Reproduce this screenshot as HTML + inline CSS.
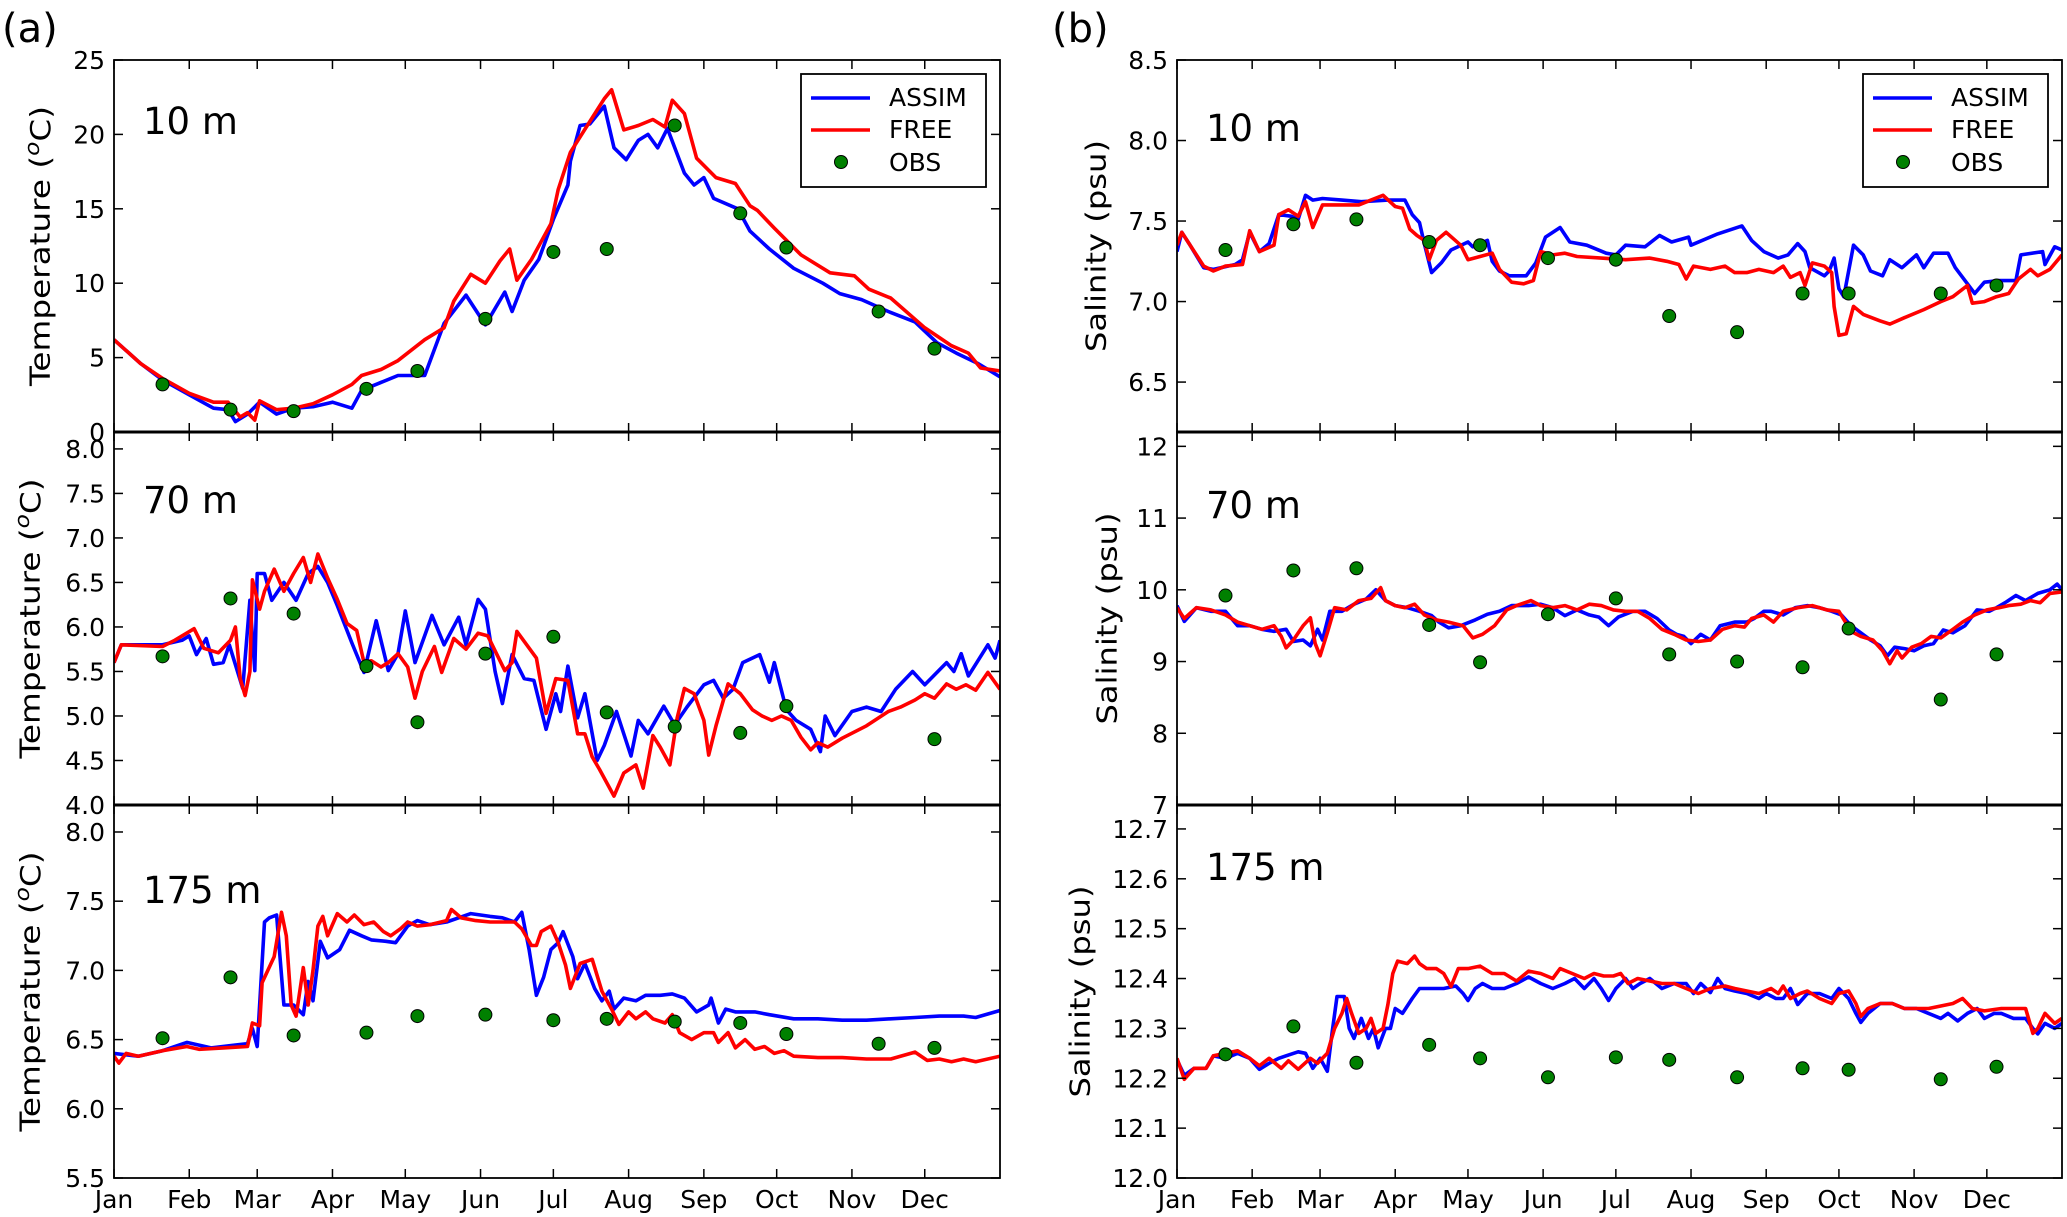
<!DOCTYPE html>
<html><head><meta charset="utf-8"><title>ASSIM vs FREE vs OBS</title>
<style>
html,body{margin:0;padding:0;background:#fff;}
svg{display:block;font-family:"DejaVu Sans","Liberation Sans",sans-serif;}
</style></head>
<body>
<svg id="fig" width="2067" height="1217" viewBox="0 0 2067 1217" xmlns="http://www.w3.org/2000/svg">
<rect width="2067" height="1217" fill="#fff"/>
<text x="2" y="42" font-size="40">(a)</text>
<text x="1052" y="42" font-size="40">(b)</text>
</svg>
<script>
const monthLabels=['Jan','Feb','Mar','Apr','May','Jun','Jul','Aug','Sep','Oct','Nov','Dec'];
const monthDays=[0,31,59,90,120,151,181,212,243,273,304,334];
const obsDays=[20,48,74,104,125,153,181,203,231,258,277,315,338];

// (a) Temperature 10 m
const assimT10=[[0,6.2],[11,4.6],[20,3.5],[31,2.5],[41,1.6],[47,1.5],[50,0.7],[55,1.2],[60,2.0],[67,1.2],[74,1.6],[82,1.7],[90,2.0],[98,1.6],[102,2.8],[117,3.8],[128,3.8],[136,7.3],[145,9.2],[153,7.2],[161,9.4],[164,8.1],[169,10.2],[175,11.6],[181,14.3],[187,16.6],[188,18.2],[192,20.6],[196,20.7],[202,21.9],[206,19.1],[211,18.3],[216,19.6],[220,20.0],[224,19.1],[228,20.4],[235,17.4],[239,16.6],[243,17.1],[247,15.7],[257,15.0],[262,13.5],[270,12.3],[280,11.0],[292,10.0],[299,9.3],[308,8.9],[319,8.1],[330,7.4],[339,6.0],[347,5.3],[356,4.6],[365,3.7]];
const freeT10=[[0,6.2],[11,4.6],[20,3.6],[31,2.6],[41,2.0],[47,2.0],[52,1.0],[55,1.3],[58,0.8],[60,2.1],[67,1.5],[74,1.6],[82,1.9],[90,2.5],[98,3.2],[102,3.8],[110,4.2],[117,4.8],[128,6.2],[136,7.0],[140,8.8],[147,10.6],[153,10.0],[159,11.5],[163,12.3],[166,10.2],[172,11.6],[180,14.0],[183,16.3],[188,18.8],[195,20.6],[202,22.4],[205,23.0],[210,20.3],[216,20.6],[222,21.0],[227,20.5],[230,22.3],[235,21.4],[240,18.4],[248,17.1],[256,16.7],[262,15.2],[265,14.9],[272,13.7],[283,11.9],[295,10.7],[305,10.5],[311,9.6],[320,9.0],[334,7.0],[345,5.8],[352,5.3],[357,4.3],[365,4.1]];
const obsT10=[3.2,1.5,1.4,2.9,4.1,7.6,12.1,12.3,20.6,14.7,12.4,8.1,5.6];

// (a) Temperature 70 m
const assimT70=[[0,5.6],[3,5.8],[20,5.8],[28,5.85],[31,5.9],[34,5.69],[38,5.87],[41,5.58],[45,5.6],[47.5,5.8],[53,5.31],[56,6.3],[58,5.51],[59,6.6],[62,6.6],[65,6.3],[70,6.5],[75,6.3],[80,6.6],[84,6.68],[88,6.5],[92,6.24],[98,5.82],[103,5.49],[108,6.07],[113,5.51],[117,5.7],[120,6.18],[124,5.6],[131,6.13],[136,5.8],[142,6.11],[145,5.8],[150,6.31],[153,6.2],[157,5.5],[160,5.14],[164,5.69],[169,5.42],[173,5.4],[178,4.85],[182,5.25],[184,5.05],[187,5.56],[191,4.98],[194,5.25],[199,4.5],[202,4.67],[207,5.05],[213,4.55],[216,4.95],[220,4.8],[226.5,5.11],[231,4.9],[236,5.1],[243,5.35],[247,5.4],[251,5.2],[255,5.3],[259,5.6],[266,5.69],[270,5.38],[272,5.6],[277,5.07],[281,4.95],[287,4.85],[291,4.6],[293,5.0],[297,4.78],[304,5.05],[310,5.1],[316,5.05],[322,5.3],[329,5.5],[334,5.35],[343,5.6],[346,5.5],[349,5.7],[352,5.45],[360,5.8],[363,5.65],[365,5.85]];
const freeT70=[[0,5.6],[3,5.8],[20,5.78],[25,5.85],[33,5.98],[37,5.76],[43,5.71],[48,5.85],[50,6.0],[52,5.42],[54,5.23],[56,5.5],[57,6.53],[60,6.2],[62,6.4],[66,6.65],[70,6.4],[74,6.6],[78,6.78],[81,6.5],[84,6.82],[88,6.55],[92,6.31],[96,6.04],[100,5.96],[103,5.6],[106,5.62],[110,5.55],[113,5.6],[117,5.7],[121,5.55],[124,5.2],[127,5.5],[132,5.78],[135,5.49],[140,5.87],[145,5.75],[150,5.93],[154,5.9],[161,5.51],[164,5.6],[166,5.95],[170,5.8],[174,5.65],[178,5.03],[182,5.42],[187,5.4],[191,4.8],[194,4.8],[197,4.54],[200,4.4],[206,4.1],[210,4.36],[215,4.45],[218,4.19],[222,4.78],[225,4.65],[229,4.45],[232,4.98],[235,5.31],[239,5.25],[243,4.95],[245,4.56],[248,4.89],[253,5.36],[258,5.25],[263,5.07],[267,5.0],[271,4.95],[275,5.0],[279,4.95],[283,4.76],[287,4.62],[290,4.7],[294,4.65],[300,4.75],[310,4.89],[319,5.05],[324,5.1],[330,5.18],[334,5.25],[338,5.2],[343,5.36],[347,5.3],[351,5.35],[355,5.29],[360,5.49],[365,5.3]];
const obsT70=[5.67,6.32,6.15,5.56,4.93,5.7,5.89,5.04,4.88,4.81,5.11,null,4.74];

// (a) Temperature 175 m
const assimT175=[[0,6.4],[10,6.38],[20,6.42],[30,6.48],[40,6.44],[50,6.46],[55,6.47],[57,6.58],[59,6.45],[62,7.35],[64,7.38],[67,7.4],[70,6.75],[74,6.75],[78,6.68],[80,6.92],[82,6.78],[85,7.21],[88,7.09],[93,7.15],[97,7.29],[102,7.25],[106,7.22],[112,7.21],[116,7.2],[121,7.32],[125,7.36],[130,7.33],[137,7.35],[142,7.38],[147,7.41],[155,7.39],[160,7.38],[165,7.35],[168,7.42],[171,7.15],[174,6.82],[177,6.95],[180,7.15],[183,7.2],[185,7.28],[189,7.1],[191,6.94],[194,7.05],[198,6.87],[201,6.78],[204,6.85],[206,6.72],[210,6.8],[215,6.78],[219,6.82],[225,6.82],[230,6.83],[235,6.8],[240,6.7],[245,6.75],[246,6.8],[249,6.62],[252,6.72],[256,6.7],[264,6.7],[270,6.68],[280,6.65],[290,6.65],[300,6.64],[310,6.64],[320,6.65],[330,6.66],[340,6.67],[350,6.67],[355,6.66],[365,6.71]];
const freeT175=[[0,6.38],[2,6.33],[5,6.4],[10,6.38],[20,6.42],[30,6.45],[35,6.43],[45,6.44],[55,6.45],[57,6.62],[60,6.6],[61,6.91],[66,7.1],[69,7.42],[71,7.25],[73,6.75],[75,6.67],[78,7.02],[80,6.75],[82,7.0],[84,7.32],[86,7.39],[88,7.25],[92,7.41],[96,7.35],[99,7.4],[103,7.33],[107,7.35],[111,7.28],[114,7.25],[118,7.3],[121,7.35],[125,7.32],[130,7.33],[137,7.36],[139,7.44],[143,7.38],[149,7.36],[155,7.35],[165,7.35],[168,7.3],[172,7.18],[174,7.18],[176,7.28],[180,7.32],[183,7.2],[186,7.04],[188,6.87],[192,7.05],[197,7.08],[201,6.85],[205,6.72],[208,6.61],[212,6.7],[215,6.65],[219,6.7],[222,6.65],[227,6.62],[230,6.68],[233,6.55],[238,6.5],[243,6.55],[247,6.55],[249,6.48],[253,6.55],[256,6.44],[260,6.5],[264,6.43],[268,6.45],[272,6.4],[276,6.42],[280,6.38],[290,6.37],[300,6.37],[310,6.36],[320,6.36],[330,6.41],[335,6.35],[340,6.36],[345,6.34],[350,6.36],[355,6.34],[365,6.38]];
const obsT175=[6.51,6.95,6.53,6.55,6.67,6.68,6.64,6.65,6.63,6.62,6.54,6.47,6.44];

// (b) Salinity 10 m
const assimS10=[[0,7.31],[2,7.43],[5,7.36],[11,7.21],[15,7.2],[24,7.23],[27,7.26],[30,7.43],[34,7.31],[38,7.36],[42,7.54],[47,7.53],[50,7.51],[53,7.66],[56,7.63],[60,7.64],[68,7.63],[76,7.62],[87,7.63],[94,7.63],[97,7.54],[100,7.49],[102,7.36],[105,7.18],[109,7.24],[113,7.32],[120,7.37],[122,7.34],[128,7.38],[130,7.25],[133,7.19],[137,7.16],[144,7.16],[148,7.24],[152,7.4],[158,7.46],[162,7.37],[169,7.35],[177,7.3],[181,7.29],[185,7.35],[193,7.34],[199,7.41],[204,7.37],[211,7.4],[212,7.35],[223,7.42],[233,7.47],[237,7.38],[242,7.31],[248,7.27],[252,7.29],[256,7.36],[259,7.31],[261,7.21],[267,7.16],[269,7.19],[271,7.27],[273,7.08],[275,7.03],[279,7.35],[283,7.29],[286,7.19],[291,7.16],[294,7.26],[299,7.21],[305,7.29],[308,7.21],[312,7.3],[318,7.3],[321,7.21],[327,7.09],[329,7.05],[333,7.12],[339,7.13],[346,7.13],[348,7.29],[357,7.31],[358,7.23],[362,7.34],[365,7.32]];
const freeS10=[[0,7.35],[2,7.43],[5,7.36],[11,7.22],[15,7.19],[20,7.22],[27,7.23],[30,7.44],[34,7.31],[40,7.35],[42,7.54],[46,7.57],[50,7.53],[53,7.62],[56,7.46],[60,7.6],[68,7.6],[75,7.6],[80,7.63],[85,7.66],[90,7.59],[93,7.58],[96,7.45],[99,7.41],[102,7.38],[104,7.26],[107,7.38],[111,7.43],[117,7.35],[120,7.26],[125,7.28],[130,7.3],[133,7.2],[138,7.12],[143,7.11],[147,7.13],[150,7.31],[155,7.29],[160,7.3],[165,7.28],[175,7.27],[185,7.26],[195,7.27],[202,7.25],[207,7.23],[210,7.14],[213,7.22],[220,7.2],[226,7.22],[230,7.18],[235,7.18],[240,7.2],[246,7.18],[250,7.22],[253,7.15],[257,7.18],[259,7.1],[262,7.24],[267,7.22],[270,7.18],[271,6.97],[273,6.79],[276,6.8],[279,6.97],[283,6.92],[290,6.88],[294,6.86],[300,6.9],[308,6.95],[315,7.0],[320,7.03],[326,7.1],[328,6.99],[333,7.0],[338,7.03],[343,7.05],[347,7.14],[352,7.2],[355,7.16],[360,7.2],[365,7.29]];
const obsS10=[7.32,7.48,7.51,7.37,7.35,7.27,7.26,6.91,6.81,7.05,7.05,7.05,7.1];

// (b) Salinity 70 m
const assimS70=[[0,9.78],[3,9.56],[8,9.75],[14,9.7],[20,9.7],[25,9.5],[30,9.5],[35,9.45],[40,9.42],[45,9.45],[48,9.28],[52,9.3],[55,9.22],[58,9.45],[60,9.3],[63,9.7],[68,9.7],[73,9.8],[78,9.87],[82,10.0],[86,9.85],[90,9.78],[95,9.75],[100,9.7],[105,9.64],[108,9.55],[112,9.47],[117,9.5],[123,9.58],[128,9.66],[133,9.7],[138,9.78],[145,9.78],[150,9.8],[155,9.75],[160,9.64],[165,9.72],[170,9.65],[174,9.62],[178,9.5],[182,9.62],[188,9.7],[193,9.7],[198,9.6],[203,9.44],[206,9.38],[209,9.35],[212,9.25],[216,9.38],[220,9.3],[224,9.5],[230,9.55],[235,9.55],[238,9.6],[242,9.7],[245,9.7],[250,9.65],[255,9.75],[260,9.78],[265,9.75],[270,9.7],[274,9.65],[278,9.5],[282,9.4],[286,9.3],[290,9.22],[293,9.08],[296,9.2],[300,9.18],[304,9.15],[308,9.22],[312,9.25],[316,9.44],[320,9.4],[325,9.5],[330,9.72],[335,9.7],[338,9.75],[342,9.83],[346,9.92],[350,9.85],[355,9.95],[360,10.0],[363,10.08],[365,10.0]];
const freeS70=[[0,9.75],[3,9.6],[8,9.75],[14,9.72],[20,9.65],[25,9.55],[30,9.5],[35,9.45],[40,9.5],[43,9.35],[45,9.19],[48,9.3],[52,9.5],[55,9.61],[57,9.25],[59,9.08],[62,9.4],[65,9.75],[70,9.72],[75,9.85],[80,9.88],[84,10.03],[86,9.85],[90,9.78],[94,9.75],[98,9.8],[102,9.65],[107,9.58],[112,9.55],[118,9.5],[122,9.33],[126,9.38],[131,9.5],[136,9.72],[140,9.78],[146,9.85],[150,9.78],[155,9.75],[160,9.78],[165,9.72],[170,9.8],[175,9.78],[180,9.72],[185,9.7],[190,9.7],[195,9.6],[200,9.45],[205,9.38],[210,9.3],[215,9.28],[220,9.3],[225,9.45],[230,9.5],[234,9.48],[237,9.6],[242,9.65],[246,9.55],[250,9.7],[256,9.75],[262,9.78],[268,9.72],[273,9.7],[278,9.42],[282,9.35],[287,9.3],[291,9.15],[294,8.97],[297,9.15],[299,9.05],[303,9.2],[307,9.25],[311,9.35],[315,9.33],[320,9.45],[324,9.55],[329,9.65],[334,9.72],[339,9.75],[343,9.78],[348,9.8],[352,9.85],[356,9.82],[360,9.95],[365,9.97]];
const obsS70=[9.92,10.27,10.3,9.51,8.99,9.66,9.88,9.1,9.0,8.92,9.46,8.47,9.1];

// (b) Salinity 175 m
const assimS175=[[0,12.237],[3,12.206],[7,12.22],[12,12.22],[15,12.245],[20,12.24],[25,12.25],[30,12.24],[34,12.218],[38,12.23],[42,12.24],[45,12.245],[50,12.253],[53,12.25],[56,12.22],[59,12.24],[62,12.214],[64,12.293],[66,12.364],[69,12.364],[71,12.3],[73,12.28],[76,12.32],[79,12.28],[81,12.3],[83,12.261],[86,12.3],[88,12.3],[90,12.34],[93,12.33],[97,12.36],[100,12.38],[105,12.38],[110,12.38],[115,12.385],[118,12.37],[120,12.356],[123,12.38],[126,12.39],[130,12.38],[135,12.38],[140,12.39],[145,12.403],[150,12.39],[155,12.38],[160,12.39],[164,12.4],[168,12.38],[172,12.4],[175,12.38],[178,12.356],[181,12.38],[185,12.4],[188,12.38],[191,12.39],[195,12.4],[200,12.38],[205,12.39],[210,12.39],[213,12.37],[216,12.39],[220,12.372],[223,12.4],[226,12.38],[230,12.375],[235,12.37],[240,12.36],[243,12.37],[247,12.36],[250,12.36],[253,12.38],[256,12.348],[260,12.37],[265,12.37],[270,12.36],[273,12.38],[277,12.36],[280,12.33],[282,12.312],[285,12.33],[290,12.35],[295,12.35],[300,12.34],[305,12.34],[310,12.33],[315,12.32],[318,12.33],[322,12.315],[326,12.33],[330,12.34],[333,12.32],[337,12.33],[340,12.33],[345,12.32],[350,12.32],[353,12.3],[355,12.289],[358,12.31],[362,12.3],[365,12.31]];
const freeS175=[[0,12.24],[3,12.198],[7,12.22],[12,12.22],[15,12.245],[20,12.25],[25,12.255],[30,12.24],[34,12.225],[38,12.24],[43,12.22],[46,12.235],[50,12.218],[55,12.24],[58,12.23],[62,12.25],[65,12.3],[68,12.33],[70,12.36],[72,12.33],[75,12.29],[78,12.3],[80,12.32],[82,12.29],[85,12.3],[87,12.348],[89,12.41],[91,12.435],[95,12.43],[98,12.445],[100,12.43],[103,12.42],[107,12.42],[110,12.41],[113,12.384],[116,12.42],[120,12.42],[125,12.425],[130,12.41],[135,12.41],[140,12.395],[145,12.415],[150,12.41],[155,12.4],[158,12.42],[163,12.41],[168,12.4],[172,12.41],[176,12.405],[180,12.405],[183,12.41],[186,12.39],[190,12.4],[195,12.395],[200,12.39],[205,12.39],[210,12.38],[215,12.37],[220,12.38],[226,12.385],[230,12.38],[235,12.375],[240,12.37],[245,12.38],[248,12.37],[250,12.385],[253,12.36],[257,12.37],[260,12.375],[265,12.36],[270,12.35],[273,12.37],[277,12.375],[280,12.35],[282,12.324],[285,12.34],[290,12.35],[295,12.35],[300,12.34],[305,12.34],[310,12.34],[315,12.345],[320,12.35],[324,12.36],[328,12.34],[333,12.335],[340,12.34],[345,12.34],[350,12.34],[353,12.29],[355,12.3],[358,12.33],[362,12.31],[365,12.32]];
const obsS175=[12.248,12.304,12.231,12.267,12.24,12.202,12.242,12.237,12.202,12.22,12.217,12.198,12.223];

const tickT10=['0','5','10','15','20','25'];
const tickT70=['4.0','4.5','5.0','5.5','6.0','6.5','7.0','7.5','8.0'];
const tickT175=['5.5','6.0','6.5','7.0','7.5','8.0'];
const tickS10=['6.5','7.0','7.5','8.0','8.5'];
const tickS70=['7','8','9','10','11','12'];
const tickS175=['12.0','12.1','12.2','12.3','12.4','12.5','12.6','12.7'];

const NS='http://www.w3.org/2000/svg';
const svg=document.getElementById('fig');
function mk(tag,attrs,parent){const e=document.createElementNS(NS,tag);for(const k in attrs)e.setAttribute(k,attrs[k]);(parent||svg).appendChild(e);return e;}

const panels=[
 {id:'temp-10m',x0:114,x1:1000,y0:60,y1:432,lo:0,hi:25,ticks:tickT10,assim:assimT10,free:freeT10,obs:obsT10,depth:'10 m',dx:143,dy:134,title:'Temperature',tx:40,legend:true,bottom:false},
 {id:'temp-70m',x0:114,x1:1000,y0:432,y1:805,lo:4,hi:8.19,ticks:tickT70,assim:assimT70,free:freeT70,obs:obsT70,depth:'70 m',dx:143,dy:513,title:'Temperature',tx:30,bottom:false},
 {id:'temp-175m',x0:114,x1:1000,y0:805,y1:1178,lo:5.5,hi:8.195,ticks:tickT175,assim:assimT175,free:freeT175,obs:obsT175,depth:'175 m',dx:143,dy:903,title:'Temperature',tx:30,bottom:true},
 {id:'sal-10m',x0:1177,x1:2062,y0:60,y1:432,lo:6.19,hi:8.5,ticks:tickS10,assim:assimS10,free:freeS10,obs:obsS10,depth:'10 m',dx:1206,dy:141,title:'Salinity',tx:1096,legend:true,bottom:false},
 {id:'sal-70m',x0:1177,x1:2062,y0:432,y1:805,lo:7,hi:12.2,ticks:tickS70,assim:assimS70,free:freeS70,obs:obsS70,depth:'70 m',dx:1206,dy:518,title:'Salinity',tx:1107,bottom:false},
 {id:'sal-175m',x0:1177,x1:2062,y0:805,y1:1178,lo:12,hi:12.748,ticks:tickS175,assim:assimS175,free:freeS175,obs:obsS175,depth:'175 m',dx:1206,dy:880,title:'Salinity',tx:1080,bottom:true}
];

panels.forEach((p,pi)=>{
 const g=mk('g',{});
 
 
 const xs=d=>p.x0+(p.x1-p.x0)*d/365;
 const ys=v=>p.y1-(p.y1-p.y0)*(v-p.lo)/(p.hi-p.lo);
 const cid='clip'+pi;
 const cp=mk('clipPath',{id:cid},g);
 mk('rect',{x:p.x0,y:p.y0,width:p.x1-p.x0,height:p.y1-p.y0},cp);
 [['assim','#0000ff'],['free','#ff0000']].forEach(([k,c])=>{
  const pts=p[k].map(([d,v])=>xs(d).toFixed(1)+','+ys(v).toFixed(1)).join(' ');
  const pl=mk('polyline',{points:pts,fill:'none',stroke:c,'stroke-width':3.6,'stroke-linejoin':'round','clip-path':'url(#'+cid+')'},g);
  
  
 });
 p.obs.forEach((v,i)=>{
  if(v===null)return;
  const c=mk('circle',{cx:xs(obsDays[i]),cy:ys(v),r:6.5,fill:'#008000',stroke:'#000','stroke-width':1,'clip-path':'url(#'+cid+')'},g);
  
  
 });
 const fr=mk('rect',{x:p.x0,y:p.y0,width:p.x1-p.x0,height:p.y1-p.y0,fill:'none',stroke:'#000','stroke-width':1.8},g);
 
 
 monthDays.forEach((d,i)=>{
  const x=xs(d);
  mk('line',{x1:x,x2:x,y1:p.y1,y2:p.y1-9,stroke:'#000','stroke-width':1.5},g);
  mk('line',{x1:x,x2:x,y1:p.y0,y2:p.y0+9,stroke:'#000','stroke-width':1.5},g);
  if(p.bottom){
   const t=mk('text',{x:x,y:1208,'font-size':25,'text-anchor':'middle'},g);
   t.textContent=monthLabels[i];
   
   
  }
 });
 p.ticks.forEach(s=>{
  const v=parseFloat(s);const y=ys(v);
  mk('line',{x1:p.x0,x2:p.x0+9,y1:y,y2:y,stroke:'#000','stroke-width':1.5},g);
  mk('line',{x1:p.x1,x2:p.x1-9,y1:y,y2:y,stroke:'#000','stroke-width':1.5},g);
  const t=mk('text',{x:p.x0-9,y:y+9,'font-size':25,'text-anchor':'end'},g);
  t.textContent=s;
  
  
 });
 const dl=mk('text',{x:p.dx,y:p.dy,'font-size':37},g);
 dl.textContent=p.depth;
 
 
 const cy=(p.y0+p.y1)/2;
 const yt=mk('text',{x:p.tx,y:cy,'font-size':28,'text-anchor':'middle','dominant-baseline':'central',transform:'rotate(-90 '+p.tx+' '+cy+')'},g);
 
 
 if(p.title==='Temperature'){
  yt.setAttribute('textLength',280);
  yt.setAttribute('lengthAdjust','spacingAndGlyphs');
  yt.textContent='Temperature (';
  const sp=mk('tspan',{'font-style':'italic','font-size':20,dy:-8},yt);sp.textContent='o';
  const sp2=mk('tspan',{dy:8},yt);sp2.textContent='C)';
 } else {
  yt.setAttribute('textLength',212);
  yt.setAttribute('lengthAdjust','spacingAndGlyphs');
  yt.textContent='Salinity (psu)';
 }
 if(p.legend){
  const lx=p.x1-199;
  const lg=mk('g',{},g);
  
  
  mk('rect',{x:lx,y:74,width:185,height:113,fill:'#fff',stroke:'#000','stroke-width':1.8},lg);
  [['ASSIM','#0000ff',98],['FREE','#ff0000',130]].forEach(([n,c,y])=>{
   mk('line',{x1:lx+10,x2:lx+69,y1:y,y2:y,stroke:c,'stroke-width':3.6},lg);
   const t=mk('text',{x:lx+88,y:y+8,'font-size':25},lg);t.textContent=n;
   
   
  });
  mk('circle',{cx:lx+40,cy:162,r:6.5,fill:'#008000',stroke:'#000','stroke-width':1},lg);
  const t=mk('text',{x:lx+88,y:171,'font-size':25},lg);t.textContent='OBS';
  
  
 }
});
[[114,1000],[1177,2062]].forEach(([a,b])=>{
 [432,805].forEach(y=>{
  const l=mk('line',{x1:a,x2:b,y1:y,y2:y,stroke:'#000','stroke-width':3});
  
  
 });
});
</script>
</body></html>
